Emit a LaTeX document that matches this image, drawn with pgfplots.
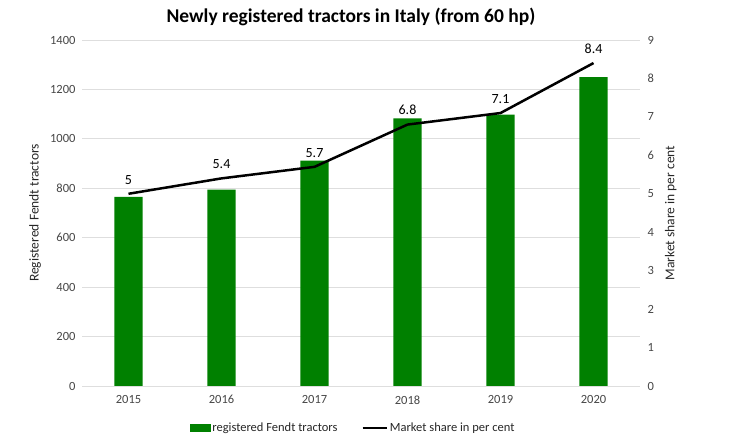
\documentclass[border=0pt]{standalone}
\usepackage{fontspec}
\setmainfont{Carlito}
\usepackage{pgfplots}
\pgfplotsset{compat=1.18}
\definecolor{barg}{RGB}{0,128,0}
\definecolor{tickc}{RGB}{70,70,70}
\begin{document}
\begin{tikzpicture}[x=1bp,y=1bp]
\useasboundingbox (0,0) rectangle (735,438);
\node[font=\fontsize{19.5bp}{22bp}\selectfont\bfseries] at (351,421) {Newly registered tractors in Italy (from 60 hp)};
\begin{axis}[at={(82bp,52bp)}, anchor=south west, scale only axis,
  width=558bp, height=346bp,
  xmin=-0.5, xmax=5.5, ymin=0, ymax=1400,
  ytick={0,200,...,1400}, xtick={0,...,5},
  xticklabels={2015,2016,2017,2018,2019,2020},
  axis line style={draw=none}, major tick length=0,
  ymajorgrids, grid style={draw=black!13, line width=0.8bp},
  tick label style={font=\fontsize{12.5bp}{14bp}\selectfont, text=tickc},
  /pgf/number format/assume math mode=true,
  /pgf/number format/1000 sep={},
  yticklabel style={xshift=-3bp},
  xticklabel style={yshift=-6bp},
  ylabel={Registered Fendt tractors},
  every axis y label/.style={at={(axis description cs:-0.084,0.5)},rotate=90,anchor=center,font=\fontsize{13.5bp}{16bp}\selectfont, text=black!85},
  ybar, bar width=28.4bp,
]
\addplot[fill=barg, draw=none] coordinates {(0,765) (1,795) (2,912) (3,1083) (4,1098) (5,1250)};
\end{axis}
\begin{axis}[at={(82bp,52bp)}, anchor=south west, scale only axis,
  width=558bp, height=346bp,
  xmin=-0.5, xmax=5.5, ymin=0, ymax=9,
  ytick={0,...,9}, axis y line*=right, hide x axis,
  axis line style={draw=none}, major tick length=0,
  tick label style={font=\fontsize{12.5bp}{14bp}\selectfont, text=tickc},
  /pgf/number format/assume math mode=true,
  yticklabel style={xshift=4bp},
  ylabel={Market share in per cent},
  every axis y label/.style={at={(axis description cs:1.055,0.5)},rotate=90,anchor=center,font=\fontsize{13.5bp}{16bp}\selectfont, text=black!85},
  legend columns=2,
  legend style={at={(axis description cs:0.486,-0.121)}, anchor=center, draw=none, fill=none,
    font=\fontsize{12.5bp}{14bp}\selectfont, text=black!85,
    /tikz/every even column/.append style={column sep=22bp}},
]
\addlegendimage{legend image code/.code={\fill[barg] (0bp,-3.5bp) rectangle (20bp,3.5bp);}}
\addlegendentry{registered Fendt tractors}
\addplot[black, line width=2.5bp, mark=none,
  nodes near coords, point meta=explicit symbolic,
  nodes near coords style={font=\fontsize{14bp}{16bp}\selectfont, text=black, anchor=south, yshift=5bp},
  legend image code/.code={\draw[black, line width=2.4bp] (0bp,0bp) -- (24bp,0bp);}]
  coordinates {(0,5)[5] (1,5.4)[5.4] (2,5.7)[5.7] (3,6.8)[6.8] (4,7.1)[7.1] (5,8.4)[8.4]};
\addlegendentry{Market share in per cent}
\end{axis}
\end{tikzpicture}
\end{document}
